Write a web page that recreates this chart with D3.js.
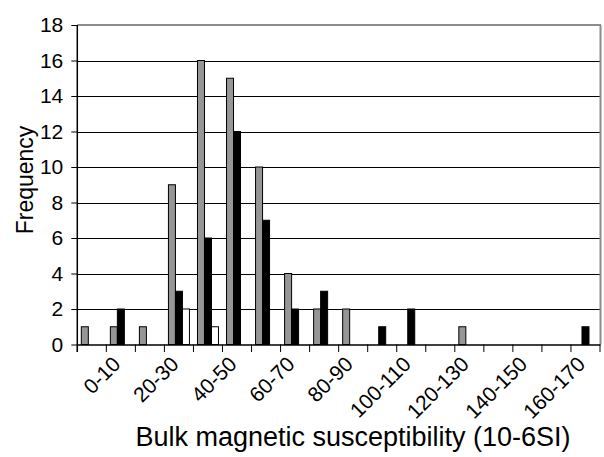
<!DOCTYPE html>
<html>
<head>
<meta charset="utf-8">
<script src="https://cdn.jsdelivr.net/npm/d3@7/dist/d3.min.js"></script>
<style>
  body { margin: 0; background: #fff; }
  text { font-family: "Liberation Sans", Arial, sans-serif; fill: #000; }
</style>
</head>
<body>
<svg id="chart" width="604" height="457"></svg>
<script>
// Categories (bins of bulk magnetic susceptibility)
const categories = ["-10-0","0-10","10-20","20-30","30-40","40-50","50-60","60-70","70-80","80-90",
                    "90-100","100-110","110-120","120-130","130-140","140-150","150-160","160-170"];
// Series frequencies
const seriesGray  = [1, 1, 1, 9, 16, 15, 10, 4, 2, 2, 0, 0, 0, 1, 0, 0, 0, 0];
const seriesBlack = [0, 2, 0, 3, 6, 12, 7, 2, 3, 0, 1, 2, 0, 0, 0, 0, 0, 1];
const seriesWhite = [0, 0, 0, 2, 1, 0, 0, 0, 0, 0, 0, 0, 0, 0, 0, 0, 0, 0];
const seriesNames = ["gray", "black", "white"];
const seriesFill = { gray: "#969696", black: "#000000", white: "#ffffff" };
const yTicks = [0, 2, 4, 6, 8, 10, 12, 14, 16, 18];
// x-axis labels shown (every other category)
const shownLabels = ["0-10","20-30","40-50","60-70","80-90","100-110","120-130","140-150","160-170"];

const seriesData = { gray: seriesGray, black: seriesBlack, white: seriesWhite };

const svg = d3.select("#chart");
const L = 77.3, R = 600, T = 25, B = 344.5;

const x = d3.scaleBand().domain(categories).range([L, R]).paddingInner(0).paddingOuter(0);
const y = d3.scaleLinear().domain([0, 18]).range([B, T]);
const barW = 7;
const xs = d3.scaleBand().domain(seriesNames).range([0, barW * 3]);
const groupOff = (x.bandwidth() - barW * 3) / 2;

// gridlines
svg.append("g").selectAll("line").data(yTicks.filter(d => d > 0 && d < 18)).join("line")
  .attr("x1", L).attr("x2", R)
  .attr("y1", d => Math.round(y(d)) + 0.5).attr("y2", d => Math.round(y(d)) + 0.5)
  .attr("stroke", "#000").attr("stroke-width", 1);

// top and right border
svg.append("line").attr("x1", L).attr("x2", R + 1).attr("y1", T).attr("y2", T)
  .attr("stroke", "#8c8c8c").attr("stroke-width", 2);
svg.append("line").attr("x1", R + 0.5).attr("x2", R + 0.5).attr("y1", T).attr("y2", B)
  .attr("stroke", "#8c8c8c").attr("stroke-width", 2);

// bars
const barRows = [];
categories.forEach((c, i) => {
  seriesNames.forEach(s => {
    const v = seriesData[s][i];
    if (v > 0) barRows.push({ c, s, v });
  });
});
svg.append("g").selectAll("rect").data(barRows).join("rect")
  .attr("x", d => x(d.c) + groupOff + xs(d.s))
  .attr("y", d => y(d.v))
  .attr("width", xs.bandwidth())
  .attr("height", d => y(0) - y(d.v))
  .attr("fill", d => seriesFill[d.s])
  .attr("stroke", "#000").attr("stroke-width", 1);

// x axis
const xAxis = d3.axisBottom(x).tickSize(0).tickFormat("");
const gx = svg.append("g").attr("transform", `translate(0,${B})`).call(xAxis);
gx.select(".domain").attr("stroke", "#000").attr("stroke-width", 1.5);
// boundary ticks
const bounds = categories.map(c => x(c)).concat([R]);
svg.append("g").selectAll("line").data(bounds).join("line")
  .attr("x1", d => d).attr("x2", d => d).attr("y1", B).attr("y2", B + 7.5)
  .attr("stroke", "#000").attr("stroke-width", 1);

// x tick labels
svg.append("g").selectAll("text").data(shownLabels).join("text")
  .attr("transform", d => `translate(${x(d) + x.bandwidth() / 2 + 1},${B + 21}) rotate(-45)`)
  .attr("text-anchor", "end")
  .style("font-size", "21px")
  .text(d => d);

// y axis
const yAxis = d3.axisLeft(y).tickValues(yTicks).tickSize(6).tickPadding(8);
const gy = svg.append("g").attr("transform", `translate(${L},0)`).call(yAxis);
gy.select(".domain").remove();
gy.selectAll(".tick line").attr("stroke", "#000");
gy.selectAll(".tick text").style("font-size", "21px").style("font-family", "Liberation Sans, Arial, sans-serif").attr("fill", "#000");
svg.append("line").attr("x1", L).attr("x2", L).attr("y1", T).attr("y2", B + 7.5)
  .attr("stroke", "#000").attr("stroke-width", 1.5);

// axis titles
svg.append("text").attr("transform", "translate(33,180) rotate(-90)")
  .attr("text-anchor", "middle").style("font-size", "23px").text("Frequency");
svg.append("text").attr("x", 353).attr("y", 446)
  .attr("text-anchor", "middle").style("font-size", "27px").text("Bulk magnetic susceptibility (10-6SI)");
</script>
</body>
</html>
